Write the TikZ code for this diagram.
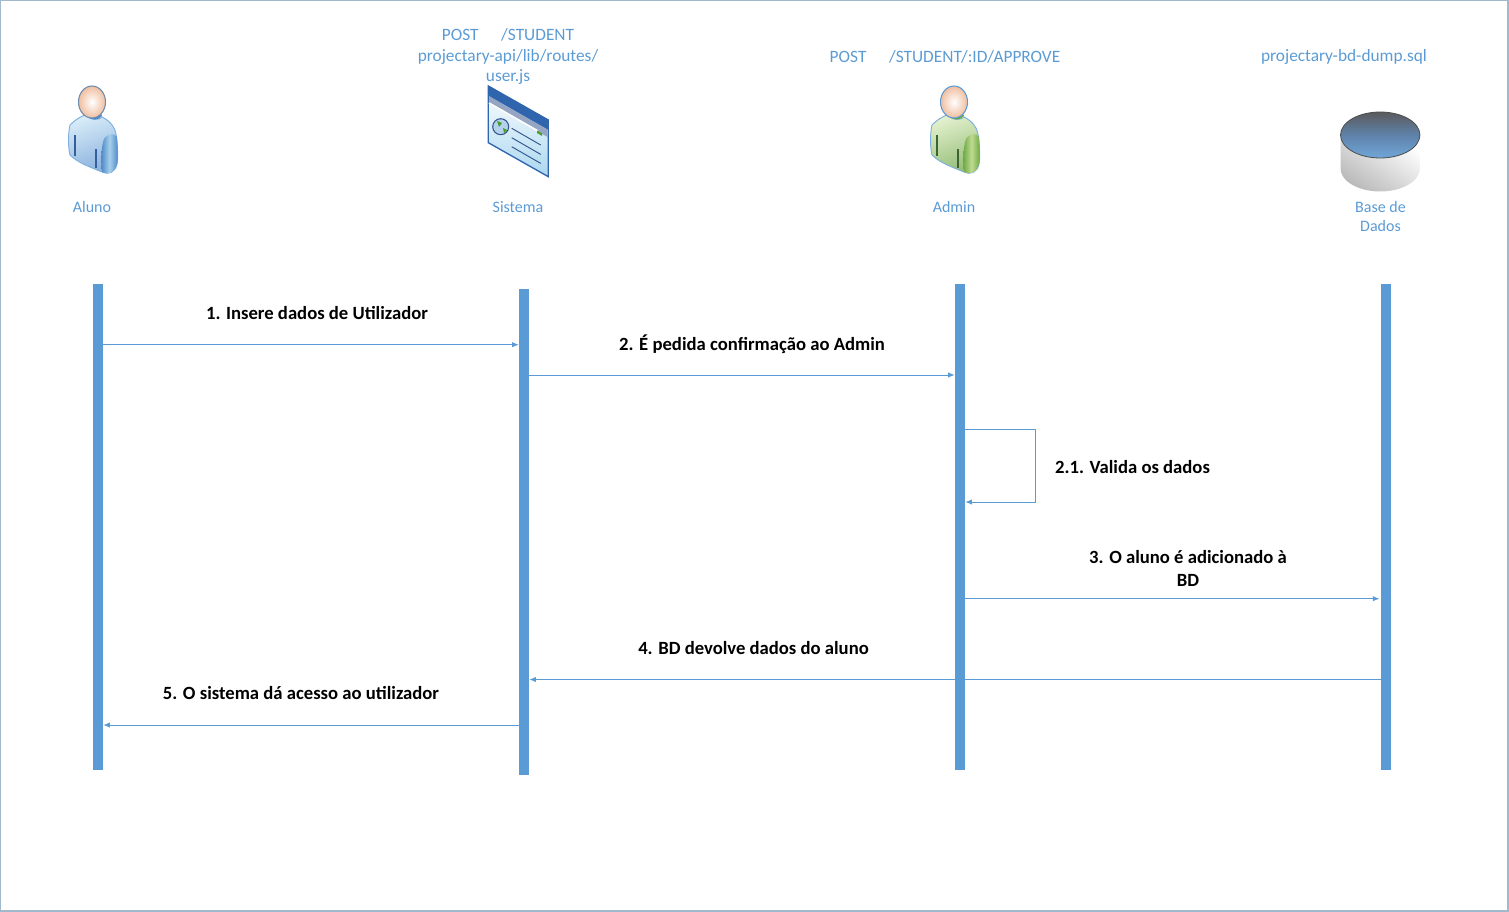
\documentclass[tikz,border=0pt]{standalone}
\usepackage{fontspec}
\setmainfont{Carlito}
\usetikzlibrary{positioning,arrows.meta,shadings,calc}
\definecolor{LineBlue}{RGB}{91,155,213}
\definecolor{FrameBlue}{RGB}{160,185,205}
\definecolor{HeadEdge}{RGB}{110,140,175}
\definecolor{HeadPeach}{RGB}{240,190,160}
\definecolor{WinBlue}{RGB}{47,101,173}
\definecolor{WinGrey}{RGB}{150,165,195}
\definecolor{WinPale}{RGB}{170,215,240}
\definecolor{WinLine}{RGB}{50,85,140}
\definecolor{GlobeGreen}{RGB}{70,160,40}
\definecolor{BlueTop}{RGB}{215,235,247}
\definecolor{BlueLow}{RGB}{135,175,222}
\definecolor{BlueCollar}{RGB}{78,136,199}
\definecolor{BlueArm}{RGB}{165,208,236}
\definecolor{BlueMark}{RGB}{52,94,156}
\definecolor{GreenTop}{RGB}{226,240,205}
\definecolor{GreenLow}{RGB}{145,187,115}
\definecolor{GreenCollar}{RGB}{108,168,69}
\definecolor{GreenArm}{RGB}{192,219,143}
\definecolor{GreenMark}{RGB}{60,100,50}
\definecolor{DiskTop}{RGB}{90,90,92}
\definecolor{DiskMid}{RGB}{95,130,170}
\definecolor{DiskLow}{RGB}{112,166,216}
\tikzset{
  pics/person/.style n args={6}{code={
    \draw[LineBlue!80!white, line width=0.7pt, top color=#1, bottom color=#2, shading angle=20]
      (-22,23) .. controls (-16,17) and (-10,14) .. (-7,13)
      .. controls (0,19) and (8,18) .. (10,15)
      .. controls (18,19) and (23,25) .. (24,32)
      .. controls (26,45) and (26,58) .. (25,62)
      .. controls (23,71) and (16,73) .. (10,70)
      .. controls (-2,65) and (-14,61) .. (-22,53)
      .. controls (-24,45) and (-24,32) .. (-22,23) -- cycle;
    \fill[#3] (-7,12) .. controls (-2,19) and (6,19) .. (10,14)
      -- (8,9) -- (-5,9) -- cycle;
    \shade[left color=#3, right color=#3, middle color=#4]
      (12,37) .. controls (16,31) and (23,31) .. (25,35)
      .. controls (26,48) and (26,58) .. (25,62)
      .. controls (23,71) and (16,73) .. (10,70)
      .. controls (9,60) and (9,45) .. (12,37) -- cycle;
    \draw[#5, line width=0.8pt] (-17,33) -- (-17,54);
    \draw[#5, line width=0.8pt] (4,47) -- (4,66);
    \shade[inner color=white, outer color=HeadPeach, draw=#6, line width=0.8pt]
      (0,0) ellipse [x radius=13.5, y radius=16];
  }}
}
\begin{document}
\begin{tikzpicture}[
      x=0.75pt, y=-0.75pt,
      every node/.style={align=center, inner sep=0pt},
      title/.style={font=\fontsize{12}{14.4}\selectfont, text=LineBlue},
      route/.style={font=\fontsize{13}{15.4}\selectfont, text=LineBlue},
      msglabel/.style={font=\fontsize{14}{17}\selectfont\bfseries, text=black},
      lifeline/.style={fill=LineBlue, draw=none, minimum width=7.5pt},
      msg/.style={-{Latex[length=5pt, width=4pt]}, draw=LineBlue, line width=0.6pt}
  ]
    \useasboundingbox (0,0) rectangle (1509,912);
    \draw[FrameBlue, line width=0.9pt] (0.5,0.5) rectangle (1508,911);

    \node[title] (aluno label) at (92,207) {Aluno};
    \node[title] (sistema label) at (518,207.5) {Sistema};
    \node[title] (admin label) at (954,207) {Admin};
    \node[title] (bd label) at (1380.5,216.5) {Base de\\Dados};
    \node[route] (sistema route) at (508,56.5) {POST\hspace{17pt}/STUDENT\\projectary-api/lib/routes/\\user.js};
    \node[route] (admin route) at (945,56.5) {POST\hspace{17pt}/STUDENT/:ID/APPROVE};
    \node[route] (bd file) at (1344,56.5) {projectary-bd-dump.sql};

    \pic at (92,102) {person={BlueTop}{BlueLow}{BlueCollar}{BlueArm}{BlueMark}{HeadEdge}};
    \pic at (954,102) {person={GreenTop}{GreenLow}{GreenCollar}{GreenArm}{GreenMark}{LineBlue}};

    \draw[WinBlue, line width=1pt, top color=white, bottom color=WinPale]
      (488.3,86) -- (548.3,120) -- (548.3,176.7) -- (488.3,142.7) -- cycle;
    \fill[WinBlue] (488.3,86) -- (548.3,120) -- (548.3,130) -- (488.3,96) -- cycle;
    \fill[WinGrey] (489,96) -- (547.5,129.5) -- (547.5,137) -- (489,103.5) -- cycle;
    \draw[white, line width=1.2pt] (489,103) -- (538,131);
    \fill[GlobeGreen] (537,130.5) -- (542,133.5) -- (542,136) -- (537,133) -- cycle;
    \draw[WinLine, line width=0.8pt, fill=LineBlue!45!white] (500.7,126.7) circle (8);
    \fill[GlobeGreen] (497,121) -- (502,123) -- (499,127) -- cycle;
    \fill[GlobeGreen] (503,128) -- (507,130) -- (504,133) -- cycle;
    \foreach \ly in {128.3,137.7,146.7}
      \draw[WinLine, line width=0.7pt] (511.7,\ly) -- (540.7,\ly+16.7);

    \shade[top color=white, bottom color=black!27, shading angle=-35]
      (1340.5,135) -- (1340.5,168.5) arc [start angle=180, end angle=360, x radius=39.7, y radius=-23] -- (1420,135) -- cycle;
    \draw[black!70, line width=0.6pt, top color=DiskTop, bottom color=DiskLow, middle color=DiskMid]
      (1380.2,135) ellipse [x radius=39.7, y radius=23];

    \node[lifeline, minimum height=364.5pt] (aluno) at (98,527) {};
    \node[lifeline, minimum height=364.5pt] (sistema) at (524,532) {};
    \node[lifeline, minimum height=364.5pt] (admin) at (960,527) {};
    \node[lifeline, minimum height=364.5pt] (bd) at (1386,527) {};

    \coordinate (y1) at (0,344.7);
    \coordinate (y2) at (0,375);
    \coordinate (y3) at (0,429.5);
    \coordinate (y4) at (0,502);
    \coordinate (y5) at (0,598.7);
    \coordinate (y6) at (0,679.5);
    \coordinate (y7) at (0,725);
    \coordinate (selfturn) at (1035.5,429.5);

    \draw[msg] (aluno.east |- y1) -- (sistema.west |- y1);
    \draw[msg] (sistema.east |- y2) -- (admin.west |- y2);
    \draw[msg] (admin.east |- y3) -- (selfturn) |- (admin.east |- y4);
    \draw[msg] (admin.west |- y5) -- ([xshift=-1pt]bd.west |- y5);
    \draw[msg] (bd.west |- y6) -- (sistema.east |- y6);
    \draw[msg] (sistema.west |- y7) -- (aluno.east |- y7);

    \node[msglabel] (msg one) at (317,313) {1. Insere dados de Utilizador};
    \node[msglabel] (msg two) at (752,344) {2. É pedida confirmação ao Admin};
    \node[msglabel] (msg self) at (1132.5,467) {2.1. Valida os dados};
    \node[msglabel] (msg three) at (1188,568.5) {3. O aluno é adicionado à\\BD};
    \node[msglabel] (msg four) at (753.5,648) {4. BD devolve dados do aluno};
    \node[msglabel] (msg five) at (301,693) {5. O sistema dá acesso ao utilizador};
  \end{tikzpicture}
\end{document}
